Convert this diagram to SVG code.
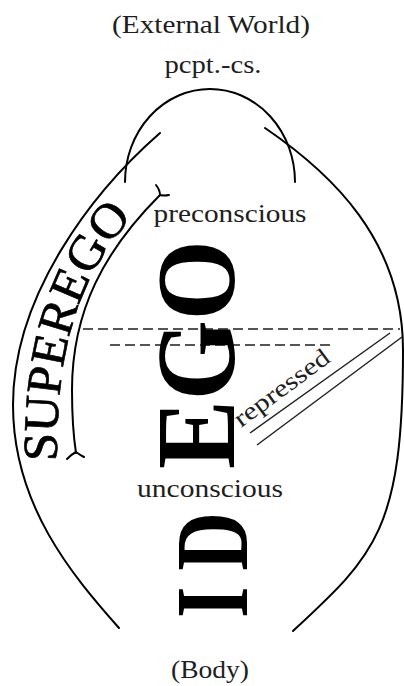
<svg xmlns="http://www.w3.org/2000/svg" width="404" height="686" viewBox="0 0 404 686">
<style>
.t{font-family:"Liberation Serif","Times New Roman",serif;font-size:25px;fill:#1e1e1e;text-anchor:middle}
.big{font-family:"Liberation Serif","Times New Roman",serif;font-weight:bold;fill:#000}
.ln{fill:none;stroke:#000;stroke-width:2;stroke-linecap:round}
.thin{fill:none;stroke:#222;stroke-width:1.5}
.dash{fill:none;stroke:#555;stroke-width:1.8;stroke-dasharray:10 5}
</style>
<defs>
<path id="sgpath" d="M57,466 C56,380 65,280 145,205"/>
</defs>
<rect width="404" height="686" fill="#fff"/>
<g id="connectors">
<path class="ln" d="M125,182 A85,93 0 0 1 295,182"/>
<path class="ln" d="M160,133 C92.5,192 13,295 13,405 C13,505 72,575 119,628"/>
<path class="ln" d="M265,128 C331,173 403,240 403,350 C403,530 375,555 293,631"/>
<path class="ln" d="M160,195 C105,250 72,310 72,390 C72,420 74,440 76,453"/>
<path class="ln" d="M156,185 Q160,190 160,195 Q164,196 169,195"/>
<path class="ln" d="M67,459 Q72,454 76,452 Q80,455 84,457"/>
<line class="dash" x1="83" y1="329" x2="400" y2="329"/>
<line class="dash" x1="110" y1="345" x2="335" y2="345"/>
<line class="thin" x1="250" y1="433" x2="390" y2="333"/>
<line class="thin" x1="257" y1="445" x2="402" y2="337"/>
</g>
<g id="external-world"><text class="t" x="211" y="33" textLength="198" lengthAdjust="spacingAndGlyphs">(External World)</text></g>
<g id="pcpt-cs"><text class="t" x="213" y="73" textLength="97" lengthAdjust="spacingAndGlyphs">pcpt.-cs.</text></g>
<g id="preconscious"><text class="t" x="230" y="222" textLength="153" lengthAdjust="spacingAndGlyphs">preconscious</text></g>
<g id="unconscious"><text class="t" x="210" y="497" textLength="146" lengthAdjust="spacingAndGlyphs">unconscious</text></g>
<g id="body"><text class="t" x="210" y="678" textLength="78" lengthAdjust="spacingAndGlyphs">(Body)</text></g>
<g id="repressed"><text class="t" style="text-anchor:start" transform="translate(241,428) rotate(-36.5)" textLength="113" lengthAdjust="spacingAndGlyphs">repressed</text></g>
<g id="superego"><text class="big" style="font-weight:normal;font-size:49px;stroke:#000;stroke-width:0.7"><textPath href="#sgpath" startOffset="5" textLength="262" lengthAdjust="spacingAndGlyphs">SUPEREGO</textPath></text></g>
<g id="ego"><text class="big" font-size="112" transform="translate(234,469) rotate(-90)" textLength="229" lengthAdjust="spacingAndGlyphs">EGO</text></g>
<g id="id"><text class="big" font-size="104" style="letter-spacing:20px" transform="translate(247,618) rotate(-90) scale(0.78,1)">ID</text></g>
</svg>
